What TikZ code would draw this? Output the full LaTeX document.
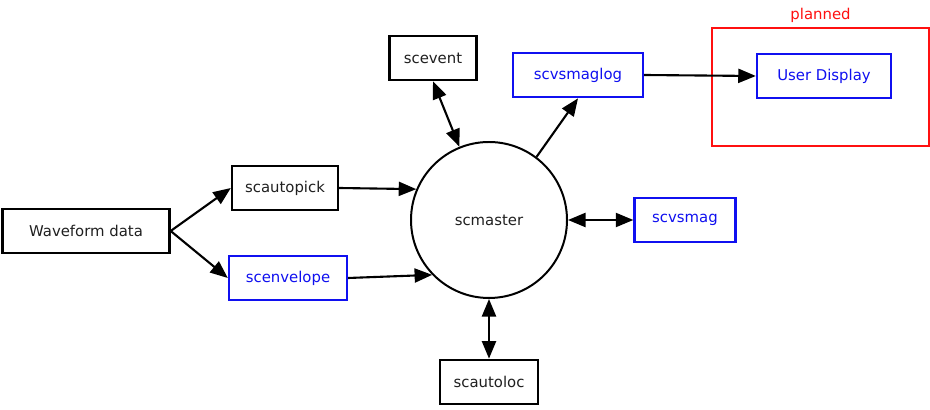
\documentclass[tikz,border=0pt]{standalone}
\usepackage{fontspec}
\setmainfont{DejaVu Sans}
\usetikzlibrary{arrows.meta,positioning}
\definecolor{dblue}{HTML}{1010F0}
\definecolor{dred}{HTML}{FF1010}
\definecolor{dtext}{HTML}{202020}
\tikzset{
  box/.style={draw=black,fill=white,line width=2pt,align=center,font=\fontsize{12.7}{15}\selectfont,text=dtext,minimum height=1.33cm,inner sep=2pt},
  bluebox/.style={box,draw=dblue,text=dblue},
  hub/.style={circle,draw=black,line width=1.7pt,minimum size=4.68cm,font=\fontsize{12.7}{15}\selectfont,text=dtext},
  arr/.style={-{Triangle[length=15pt,width=12pt]},line width=1.8pt,draw=black},
  darr/.style={{Triangle[length=15pt,width=12pt]}-{Triangle[length=15pt,width=12pt]},line width=1.8pt,draw=black},
}
\begin{document}
\begin{tikzpicture}
  \useasboundingbox (0,0) rectangle (27.9,12.3);
  % planned frame
  \node[draw=dred,line width=2pt,minimum width=6.51cm,minimum height=3.54cm,inner sep=0pt] (plan) at (24.615,9.69) {};
  \node[font=\fontsize{12.7}{15}\selectfont,text=dred,above=0pt of plan.north] (planlbl) {planned};
  % nodes
  \node[box,minimum width=5.01cm] (wave) at (2.58,5.37) {Waveform data};
  \node[box,minimum width=3.18cm] (pick) at (8.55,6.66) {scautopick};
  \node[bluebox,minimum width=3.54cm] (env) at (8.64,3.96) {scenvelope};
  \node[box,minimum width=2.61cm] (event) at (12.99,10.56) {scevent};
  \node[bluebox,minimum width=3.9cm] (maglog) at (17.34,10.05) {scvsmaglog};
  \node[bluebox,minimum width=4.02cm] (user) at (24.72,10.02) {User Display};
  \node[hub] (master) at (14.67,5.7) {scmaster};
  \node[bluebox,minimum width=3.03cm] (vsmag) at (20.55,5.7) {scvsmag};
  \node[box,minimum width=2.94cm] (autoloc) at (14.67,0.84) {scautoloc};
  % connectors
  \draw[arr] (wave.east) -- (pick.west);
  \draw[arr] (wave.east) -- (env.west);
  \draw[arr] (pick.east) -- (master.157);
  \draw[arr] (env.east) -- (master.224);
  \draw[darr] (event.south) -- (master.112);
  \draw[arr] (master.53) -- (maglog.south);
  \draw[arr] (maglog.east) -- (user.west);
  \draw[darr] (master.east) -- (vsmag.west);
  \draw[darr] (master.south) -- (autoloc.north);
\end{tikzpicture}
\end{document}
